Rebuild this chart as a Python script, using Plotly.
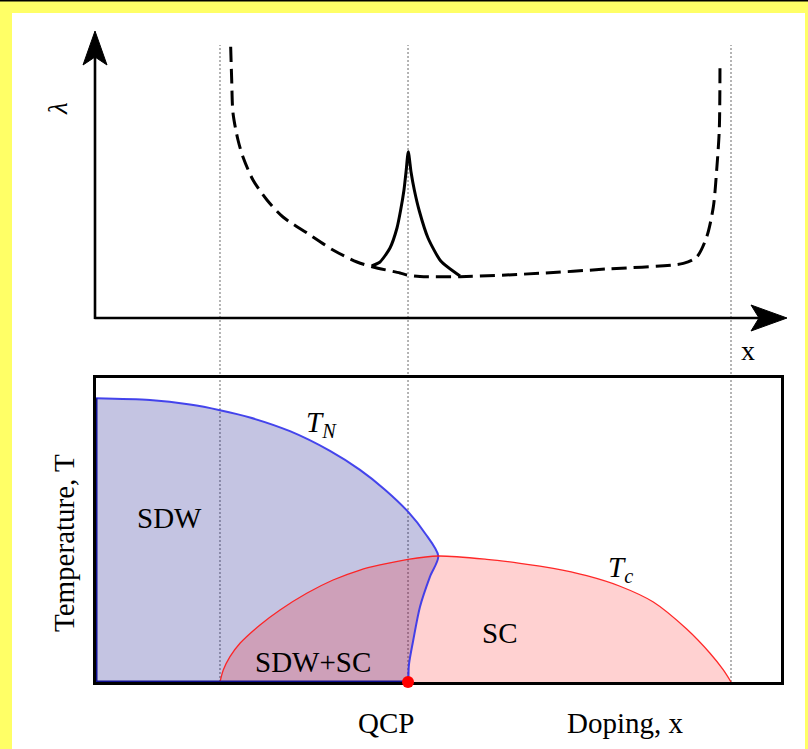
import plotly.graph_objects as go

# ---------------------------------------------------------------------------
# Data (doping x in units of the lower box width, T and lambda normalised)
# ---------------------------------------------------------------------------
# Doping of the three guide lines: SC onset, quantum critical point, SC end
x_sc_start = 0.181
x_qcp = 0.4555
x_sc_end = 0.927
guide_x = [x_sc_start, x_qcp, x_sc_end]

# Upper panel: coupling constant lambda(x), dashed background curve
lam_dash_x = [0.1966, 0.1981, 0.2000, 0.2073, 0.2146, 0.2292, 0.2496, 0.2730,
              0.3080, 0.3460, 0.3810, 0.4044, 0.4438, 0.4540, 0.4730, 0.5314,
              0.6482, 0.7455, 0.8574, 0.8769, 0.8915, 0.9012, 0.9061, 0.9099,
              0.9109]
lam_dash_y = [0.9355, 0.8207, 0.7069, 0.6138, 0.5552, 0.4759, 0.4069, 0.3483,
              0.2931, 0.2345, 0.1931, 0.1759, 0.1552, 0.1483, 0.1431, 0.1424,
              0.1541, 0.1690, 0.1885, 0.2103, 0.2793, 0.3828, 0.5103, 0.6483,
              0.8621]

# Upper panel: enhanced lambda peak at the QCP (solid, cusp-like)
lam_peak_x = [0.4025, 0.4146, 0.4292, 0.4394, 0.4445, 0.4496, 0.4526,
              0.4559,
              0.4599, 0.4647, 0.4720, 0.4847, 0.5033, 0.5314]
lam_peak_y = [0.1793, 0.1931, 0.2414, 0.3103, 0.3690, 0.4414, 0.5034,
              0.5734,
              0.5034, 0.4414, 0.3690, 0.2759, 0.1966, 0.1448]

# Lower panel: Neel temperature T_N(x)
tn_x = [0.0, 0.0788, 0.1372, 0.1810, 0.2248, 0.2832, 0.3416, 0.3854,
        0.4219, 0.4555, 0.4803, 0.4997]
tn_y = [0.9332, 0.9273, 0.9125, 0.8940, 0.8701, 0.8250, 0.7602, 0.6977,
        0.6326, 0.5602, 0.4895, 0.4145]
# back-bending SDW boundary below the SC dome, ending at the QCP
tnb_x = [0.4997, 0.4876, 0.4730, 0.4632, 0.4570, 0.4555]
tnb_y = [0.4145, 0.3464, 0.2477, 0.1382, 0.0600, 0.0]

# Lower panel: superconducting dome T_c(x)
tc_x = [0.1810, 0.1858, 0.1956, 0.2102, 0.2394, 0.2686, 0.3076, 0.3460,
        0.3854, 0.4146, 0.4555, 0.4997, 0.5704, 0.6190, 0.6676, 0.7163,
        0.7650, 0.8136, 0.8623, 0.8964, 0.9158, 0.9270]
tc_y = [0.0, 0.0395, 0.0832, 0.1273, 0.1875, 0.2368, 0.2918, 0.3355,
        0.3684, 0.3849, 0.4036, 0.4145, 0.4036, 0.3905, 0.3740, 0.3497,
        0.3150, 0.2630, 0.1740, 0.0944, 0.0395, 0.0]

# ---------------------------------------------------------------------------
# Page geometry (pixels)
# ---------------------------------------------------------------------------
W, H = 808, 749
X0_PX, X1_PX = 96, 781          # doping 0 .. 1
T0_PX, T1_PX = 682, 378         # temperature 0 .. 1
L0_PX, L_PER = 318, 290         # lambda origin and pixels per unit
PXX = X1_PX - X0_PX


def px2x(p):
    return (p - X0_PX) / PXX


def px2lam(p):
    return (L0_PX - p) / L_PER


def px2t(p):
    return (T0_PX - p) / (T0_PX - T1_PX)


top_xdom = (78, 797)
top_ydom = (338, 22)

FONT = "Liberation Serif"
FS = 29
BLUE = "rgba(50,50,235,0.9)"
RED = "rgba(255,30,30,0.95)"

fig = go.Figure()

# ---- upper panel ---------------------------------------------------------
fig.add_trace(go.Scatter(x=lam_dash_x, y=lam_dash_y, mode="lines",
                         line=dict(color="black", width=3, dash="15px,7px",
                                   shape="spline", smoothing=0.8),
                         xaxis="x", yaxis="y", hoverinfo="skip"))
fig.add_trace(go.Scatter(x=lam_peak_x, y=lam_peak_y, mode="lines",
                         line=dict(color="black", width=3, shape="spline",
                                   smoothing=0.6),
                         xaxis="x", yaxis="y", hoverinfo="skip"))

# ---- lower panel: phase regions ----------------------------------------
sdw_x = tn_x + tnb_x[1:] + [0.0]
sdw_y = tn_y + tnb_y[1:] + [0.0]
fig.add_trace(go.Scatter(x=sdw_x, y=sdw_y, mode="lines", fill="toself",
                         fillcolor="rgba(0,0,128,0.23)",
                         line=dict(width=0, shape="spline", smoothing=0.8),
                         xaxis="x2", yaxis="y2", hoverinfo="skip"))
fig.add_trace(go.Scatter(x=tc_x, y=tc_y, mode="lines", fill="toself",
                         fillcolor="rgba(255,0,0,0.18)",
                         line=dict(width=0, shape="spline", smoothing=0.8),
                         xaxis="x2", yaxis="y2", hoverinfo="skip"))

# phase boundaries
fig.add_trace(go.Scatter(x=tn_x + tnb_x[1:], y=tn_y + tnb_y[1:], mode="lines",
                         line=dict(color=BLUE, width=2, shape="spline",
                                   smoothing=0.8),
                         xaxis="x2", yaxis="y2", hoverinfo="skip"))
fig.add_trace(go.Scatter(x=tc_x, y=tc_y, mode="lines",
                         line=dict(color=RED, width=1.3, shape="spline",
                                   smoothing=0.8),
                         xaxis="x2", yaxis="y2", hoverinfo="skip"))
# SDW edge along the box (left side and bottom up to the QCP)
fig.add_trace(go.Scatter(x=[0.0, 0.0, x_qcp], y=[tn_y[0], 0.0, 0.0],
                         mode="lines", line=dict(color="#101090", width=3),
                         xaxis="x2", yaxis="y2", hoverinfo="skip",
                         cliponaxis=False))
# quantum critical point
fig.add_trace(go.Scatter(x=[x_qcp], y=[0.0], mode="markers",
                         marker=dict(color="#ff0000", size=12),
                         xaxis="x2", yaxis="y2", hoverinfo="skip",
                         cliponaxis=False))

# ---- shapes ---------------------------------------------------------------
shapes = []
# yellow frame
shapes.append(dict(type="rect", xref="paper", yref="paper", x0=0, x1=1,
                   y0=1 - 13 / H, y1=1, fillcolor="#ffff66", line_width=0,
                   layer="above"))
shapes.append(dict(type="rect", xref="paper", yref="paper", x0=0, x1=12 / W,
                   y0=0, y1=1, fillcolor="#ffff66", line_width=0,
                   layer="above"))
shapes.append(dict(type="rect", xref="paper", yref="paper", x0=805 / W, x1=1,
                   y0=0, y1=1, fillcolor="#ffff66", line_width=0,
                   layer="above"))
shapes.append(dict(type="line", xref="paper", yref="paper", x0=0, x1=1,
                   y0=1 - 0.8 / H, y1=1 - 0.8 / H,
                   line=dict(color="black", width=1.6), layer="above"))

# dotted guide lines through both panels
for gx in guide_x:
    shapes.append(dict(type="line", xref="x2", yref="paper", x0=gx, x1=gx,
                       y0=1 - T0_PX / H, y1=1 - 45 / H, layer="below",
                       line=dict(color="#959595", width=1.4, dash="2px,2px")))

# axes of the upper panel with stealth arrow heads
shapes.append(dict(type="line", xref="x", yref="y", x0=px2x(95), x1=px2x(95),
                   y0=px2lam(319), y1=px2lam(52),
                   line=dict(color="black", width=2.6)))
shapes.append(dict(type="line", xref="x", yref="y", x0=px2x(94.5),
                   x1=px2x(765), y0=0, y1=0,
                   line=dict(color="black", width=2.6)))
shapes.append(dict(type="path", xref="x", yref="y", xsizemode="pixel",
                   ysizemode="pixel", xanchor=px2x(95), yanchor=px2lam(31),
                   path="M0,0 L-12,-34 L0,-26 L12,-34 Z",
                   fillcolor="black", line=dict(color="black", width=1)))
shapes.append(dict(type="path", xref="x", yref="y", xsizemode="pixel",
                   ysizemode="pixel", xanchor=px2x(787), yanchor=0,
                   path="M0,0 L-36,13 L-28,0 L-36,-13 Z",
                   fillcolor="black", line=dict(color="black", width=1)))


# ---- annotations ----------------------------------------------------------
def note(text, x, y, xref, yref, size=FS, angle=0):
    return dict(text=text, x=x, y=y, xref=xref, yref=yref, showarrow=False,
                xanchor="center", yanchor="middle", textangle=angle,
                font=dict(family=FONT, size=size, color="black"))


def pnote(text, xp, yp, size=FS, angle=0):
    # label positioned on the page (outside the plotting ranges)
    return note(text, xp / W, 1 - yp / H, "paper", "paper", size, angle)


annotations = [
    pnote("<i>λ</i>", 58, 108, size=27, angle=-90),
    pnote("x", 748, 350, size=28),
    note("<i>T</i><sub><i>N</i></sub>", px2x(321), px2t(424), "x2", "y2"),
    note("SDW", px2x(169), px2t(518), "x2", "y2"),
    note("SDW+SC", px2x(313), px2t(662), "x2", "y2"),
    note("SC", px2x(499), px2t(633), "x2", "y2"),
    note("<i>T</i><sub><i>c</i></sub>", px2x(620), px2t(569), "x2", "y2"),
    pnote("QCP", 386, 723),
    pnote("Doping, x", 625, 723),
    pnote("Temperature, T", 64, 543, angle=-90),
]

hidden = dict(showgrid=False, zeroline=False, showticklabels=False, ticks="")

fig.update_layout(
    width=W, height=H, margin=dict(l=0, r=0, t=0, b=0),
    paper_bgcolor="white", plot_bgcolor="rgba(0,0,0,0)",
    showlegend=False,
    xaxis=dict(domain=[top_xdom[0] / W, top_xdom[1] / W],
               range=[px2x(top_xdom[0]), px2x(top_xdom[1])],
               anchor="y", **hidden),
    yaxis=dict(domain=[1 - top_ydom[0] / H, 1 - top_ydom[1] / H],
               range=[px2lam(top_ydom[0]), px2lam(top_ydom[1])],
               anchor="x", **hidden),
    xaxis2=dict(domain=[X0_PX / W, X1_PX / W], range=[0, 1], anchor="y2",
                showline=True, mirror=True, linecolor="black", linewidth=3,
                layer="below traces", **hidden),
    yaxis2=dict(domain=[1 - T0_PX / H, 1 - T1_PX / H], range=[0, 1],
                anchor="x2", showline=True, mirror=True, linecolor="black",
                linewidth=3, layer="below traces", **hidden),
    shapes=shapes,
    annotations=annotations,
)

fig.write_html("out.html")
